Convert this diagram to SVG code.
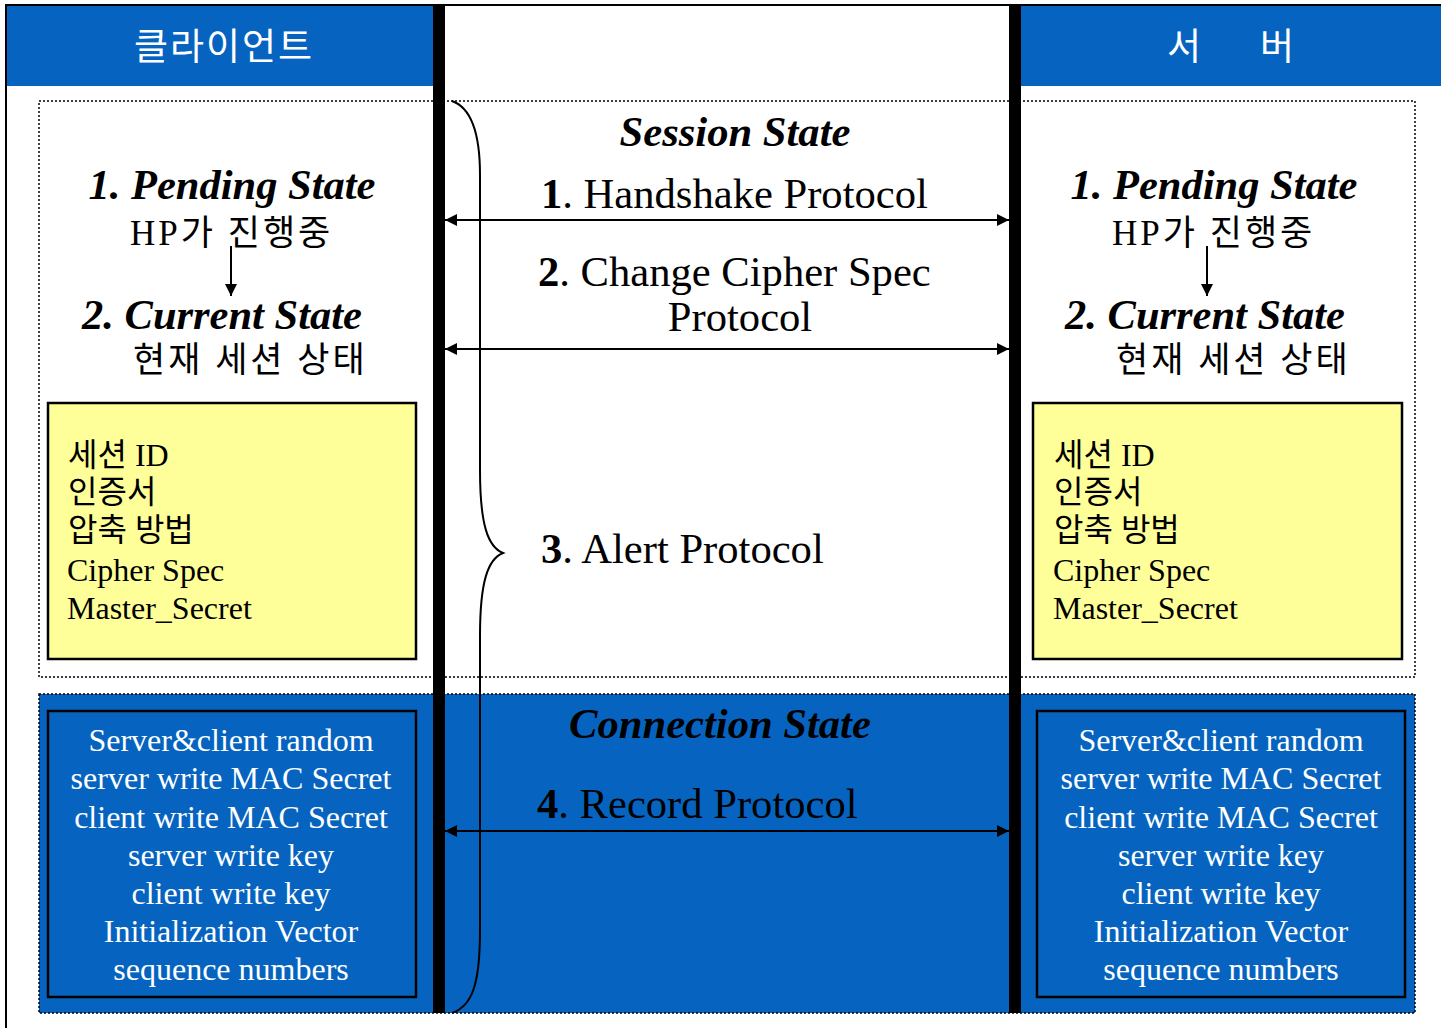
<svg xmlns="http://www.w3.org/2000/svg" width="1441" height="1028" viewBox="0 0 1441 1028">
<style>
.ser{font-family:"Liberation Serif","Noto Sans CJK KR",serif;}
.kr{font-family:"Noto Sans CJK KR","Liberation Sans",sans-serif;}
.hdr{font-size:37px;fill:#fff;text-anchor:middle;}
.st{font-size:42.5px;font-weight:bold;font-style:italic;fill:#000;text-anchor:middle;}
.mid{font-size:42.6px;fill:#000;}
.sub{font-size:35px;fill:#000;letter-spacing:3px;}
.yl{font-size:32px;fill:#000;}
.wl{font-size:32px;fill:#fff;text-anchor:middle;}
.dot{fill:none;stroke:#000;stroke-width:1.5;stroke-dasharray:2 2;}
.box{stroke:#000;stroke-width:2.5;}
.arr{stroke:#000;stroke-width:2;fill:none;}
</style>
<defs>
<marker id="ah" viewBox="0 0 10 10" refX="10" refY="5" markerWidth="12" markerHeight="12" markerUnits="userSpaceOnUse" orient="auto-start-reverse">
<path d="M0,0 L10,5 L0,10 z" fill="#000"/>
</marker>
</defs>
<rect x="0" y="0" width="1441" height="1028" fill="#fff"/>
<rect x="6" y="5" width="1445" height="1035" fill="none" stroke="#000" stroke-width="2"/>

<g id="header-client">
<rect x="7" y="6" width="426" height="80" fill="#0664C0"/>
<text class="kr hdr" x="224" y="60" letter-spacing="2">클라이언트</text>
</g>
<g id="header-server">
<rect x="1021" y="6" width="420" height="80" fill="#0664C0"/>
<text class="kr hdr" x="1184" y="60">서</text>
<text class="kr hdr" x="1277" y="60">버</text>
</g>

<g id="session-state">
<rect class="dot" x="39" y="101" width="1376" height="576"/>
</g>
<g id="connection-state">
<rect x="39" y="694" width="1376" height="319" fill="#0664C0"/>
<rect class="dot" x="39" y="694" width="1376" height="319"/>
</g>

<g id="bar-left"><rect x="433" y="6" width="12" height="1007" fill="#000"/></g>
<g id="bar-right"><rect x="1009" y="6" width="12" height="1007" fill="#000"/></g>

<g id="client-pending">
<text class="ser st" x="232" y="199">1. Pending State</text>
<text class="ser sub" x="130" y="245">HP가 진행중</text>
<text class="ser st" x="222" y="329">2. Current State</text>
<text class="ser sub" x="133" y="372" xml:space="preserve">현재 세션 상태</text>
</g>
<g id="server-pending">
<text class="ser st" x="1214" y="199">1. Pending State</text>
<text class="ser sub" x="1112" y="245">HP가 진행중</text>
<text class="ser st" x="1205" y="329">2. Current State</text>
<text class="ser sub" x="1116" y="372" xml:space="preserve">현재 세션 상태</text>
</g>

<g id="client-session-box">
<rect class="box" x="48" y="403" width="368" height="256" fill="#FFFF99"/>
<text class="ser yl" x="68" y="466">세션 ID</text>
<text class="ser yl" x="68" y="503">인증서</text>
<text class="ser yl" x="68" y="541">압축 방법</text>
<text class="ser yl" x="67" y="581">Cipher Spec</text>
<text class="ser yl" x="67" y="619">Master_Secret</text>
</g>
<g id="server-session-box">
<rect class="box" x="1033" y="403" width="369" height="256" fill="#FFFF99"/>
<text class="ser yl" x="1054" y="466">세션 ID</text>
<text class="ser yl" x="1054" y="503">인증서</text>
<text class="ser yl" x="1054" y="541">압축 방법</text>
<text class="ser yl" x="1053" y="581">Cipher Spec</text>
<text class="ser yl" x="1053" y="619">Master_Secret</text>
</g>

<g id="client-connection-box">
<rect class="box" x="48" y="711" width="368" height="286" fill="#0664C0"/>
<text class="ser wl" x="231" y="751">Server&amp;client random</text>
<text class="ser wl" x="231" y="789">server write MAC Secret</text>
<text class="ser wl" x="231" y="828">client write MAC Secret</text>
<text class="ser wl" x="231" y="866">server write key</text>
<text class="ser wl" x="231" y="904">client write key</text>
<text class="ser wl" x="231" y="942">Initialization Vector</text>
<text class="ser wl" x="231" y="980">sequence numbers</text>
</g>
<g id="server-connection-box">
<rect class="box" x="1037" y="711" width="368" height="286" fill="#0664C0"/>
<text class="ser wl" x="1221" y="751">Server&amp;client random</text>
<text class="ser wl" x="1221" y="789">server write MAC Secret</text>
<text class="ser wl" x="1221" y="828">client write MAC Secret</text>
<text class="ser wl" x="1221" y="866">server write key</text>
<text class="ser wl" x="1221" y="904">client write key</text>
<text class="ser wl" x="1221" y="942">Initialization Vector</text>
<text class="ser wl" x="1221" y="980">sequence numbers</text>
</g>

<g id="protocol-labels">
<text class="ser mid" x="735" y="146" text-anchor="middle" font-weight="bold" font-style="italic">Session State</text>
<text class="ser mid" x="541" y="208"><tspan font-weight="bold">1</tspan>. Handshake Protocol</text>
<text class="ser mid" x="538" y="286"><tspan font-weight="bold">2</tspan>. Change Cipher Spec</text>
<text class="ser mid" x="740" y="331" text-anchor="middle">Protocol</text>
<text class="ser mid" x="541" y="563"><tspan font-weight="bold">3</tspan>. Alert Protocol</text>
<text class="ser mid" x="720" y="738" text-anchor="middle" font-weight="bold" font-style="italic" fill="#fff">Connection State</text>
<text class="ser mid" x="537" y="818" fill="#fff"><tspan font-weight="bold">4</tspan>. Record Protocol</text>
</g>

<g id="connectors">
<line class="arr" x1="445" y1="220" x2="1009" y2="220" marker-start="url(#ah)" marker-end="url(#ah)"/>
<line class="arr" x1="445" y1="349" x2="1009" y2="349" marker-start="url(#ah)" marker-end="url(#ah)"/>
<line class="arr" x1="445" y1="831" x2="1009" y2="831" marker-start="url(#ah)" marker-end="url(#ah)"/>
<line class="arr" x1="231" y1="246" x2="231" y2="296" marker-end="url(#ah)"/>
<line class="arr" x1="1207" y1="246" x2="1207" y2="296" marker-end="url(#ah)"/>
<path class="arr" d="M452,101 C472,108 480,135 480,175 L480,470 C480,525 488,547 503,553 C488,559 480,581 480,636 L480,930 C480,985 472,1006 452,1013"/>
</g>
</svg>
